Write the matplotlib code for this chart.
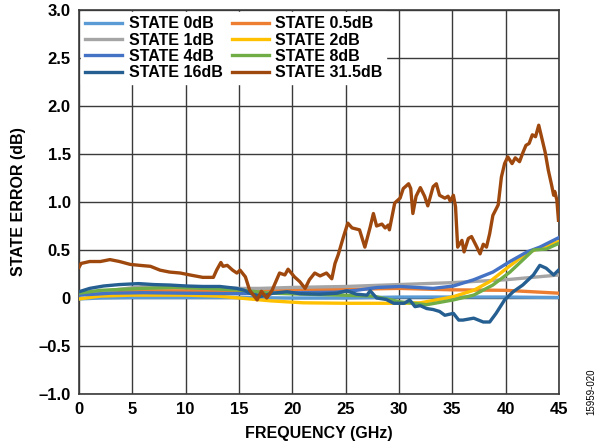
import matplotlib
matplotlib.use("Agg")
import matplotlib.pyplot as plt

# === DATA ===
f_0db = [0, 2, 5, 10, 15, 20, 25, 30, 35, 40, 45]
v_0db = [-0.01, 0.0, 0.005, 0.005, 0.005, 0.0, 0.0, 0.01, 0.01, 0.01, 0.005]

f_05db = [0, 3, 6, 10, 15, 20, 25, 30, 35, 40, 45]
v_05db = [0.04, 0.07, 0.075, 0.075, 0.08, 0.09, 0.09, 0.10, 0.085, 0.08, 0.05]

f_1db = [0, 3, 6, 10, 15, 17, 20, 25, 30, 35, 40, 45]
v_1db = [0.03, 0.08, 0.12, 0.11, 0.10, 0.10, 0.11, 0.12, 0.14, 0.16, 0.19, 0.24]

f_2db = [0, 2, 5, 10, 13, 15, 18, 21, 25, 28, 30, 32, 34, 35.1, 37.0, 38.5,
         40.1, 42.0, 43.2, 45]
v_2db = [-0.01, 0.02, 0.03, 0.03, 0.02, 0.0, -0.03, -0.05, -0.055, -0.055,
         -0.055, -0.05, -0.01, 0.014, 0.08, 0.17, 0.31, 0.47, 0.52, 0.59]

f_4db = [0, 3, 6, 10, 15, 20, 24, 26, 28, 30.1, 33.2, 35.1, 37.0, 38.8,
         40.4, 42.0, 43.2, 45]
v_4db = [0.03, 0.05, 0.055, 0.05, 0.045, 0.055, 0.06, 0.08, 0.11, 0.12,
         0.10, 0.125, 0.19, 0.27, 0.38, 0.48, 0.53, 0.63]

f_8db = [0, 2, 6, 9, 12, 15.3, 18, 21, 24.5, 27.6, 30.1, 32.6, 35.1, 37.0,
         38.8, 40.4, 42.6, 43.8, 45]
v_8db = [0.05, 0.08, 0.10, 0.11, 0.10, 0.08, 0.05, 0.04, 0.03, 0.02, -0.04,
         -0.07, -0.02, 0.03, 0.135, 0.27, 0.50, 0.51, 0.57]

f_16db = [0, 1.0, 2.3, 3.8, 5.6, 7.0, 8.5, 10.1, 11.6, 13.2,
          14.8, 15.5, 16.0, 17.0, 18.2, 19.5, 20.7, 22.6, 24.2, 25.1,
          26.0, 27.0, 27.3, 27.9, 28.8, 29.5, 30.5, 31.0, 31.5, 32.0,
          32.6, 33.2, 33.8, 34.3, 35.1, 35.6, 36.0, 37.0, 37.9, 38.5,
          39.1, 39.9, 40.7, 41.6, 42.6, 43.2, 43.8, 44.5, 44.95]
v_16db = [0.065, 0.10, 0.125, 0.14, 0.15, 0.14, 0.135, 0.125, 0.12, 0.12,
          0.10, 0.08, 0.05, 0.015, 0.05, 0.065, 0.045, 0.04, 0.05, 0.075,
          0.04, 0.03, 0.075, 0.0, -0.015, -0.055, -0.055, -0.02, -0.09, -0.08,
          -0.11, -0.12, -0.14, -0.18, -0.16, -0.23, -0.23, -0.21, -0.25, -0.25,
          -0.16, -0.02, 0.065, 0.135, 0.24, 0.34, 0.31, 0.24, 0.29]

f_315db = [0, 0.2, 1.0, 2.0, 2.9, 3.8, 4.8, 5.7, 6.7, 7.6,
           8.5, 9.5, 10.4, 11.6, 12.6, 12.9, 13.3, 13.5, 13.9, 14.4,
           14.8, 15.1, 15.6, 16.0, 16.7, 17.1, 17.6, 18.1, 18.8, 19.3,
           19.6, 20.2, 20.7, 21.2, 21.6, 22.1, 22.6, 23.2, 23.7, 24.0,
           24.3, 24.8, 25.2, 25.6, 26.3, 26.8, 27.3, 27.6, 27.9, 28.4,
           28.7, 29.0, 29.1, 29.6, 30.1, 30.4, 30.9, 31.1, 31.3, 31.6,
           32.0, 32.4, 32.7, 33.2, 33.5, 33.8, 34.3, 34.6, 34.8, 35.1,
           35.3, 35.5, 35.9, 36.1, 36.5, 36.8, 37.3, 37.6, 37.9, 38.2,
           38.5, 38.8, 39.3, 39.6, 39.9, 40.2, 40.6, 40.9, 41.3, 41.6,
           41.9, 42.2, 42.5, 42.8, 43.1, 43.4, 43.7, 44.0, 44.3, 44.5,
           44.6, 44.8, 44.95]
v_315db = [0.32, 0.36, 0.38, 0.38, 0.40, 0.38, 0.35, 0.34, 0.33, 0.29,
           0.27, 0.26, 0.24, 0.215, 0.215, 0.29, 0.37, 0.33, 0.34, 0.29,
           0.26, 0.29, 0.22, 0.08, -0.02, 0.07, 0.0, 0.08, 0.26, 0.24,
           0.30, 0.22, 0.17, 0.10, 0.19, 0.26, 0.23, 0.26, 0.20, 0.36,
           0.45, 0.64, 0.78, 0.73, 0.71, 0.53, 0.74, 0.88, 0.75, 0.77,
           0.73, 0.76, 0.71, 0.99, 1.04, 1.14, 1.19, 1.14, 0.88, 1.06,
           1.15, 1.06, 0.96, 1.16, 1.19, 1.07, 1.04, 1.06, 1.01, 1.07,
           0.95, 0.53, 0.60, 0.48, 0.62, 0.64, 0.53, 0.46, 0.56, 0.53,
           0.67, 0.86, 0.97, 1.26, 1.40, 1.47, 1.40, 1.46, 1.42, 1.51,
           1.59, 1.61, 1.70, 1.68, 1.80, 1.66, 1.52, 1.33, 1.18, 1.07,
           1.11, 1.02, 0.81]

x_ticks = [0, 5, 10, 15, 20, 25, 30, 35, 40, 45]
y_ticks = [-1.0, -0.5, 0, 0.5, 1.0, 1.5, 2.0, 2.5, 3.0]
y_tick_labels = ["\u20131.0", "\u20130.5", "0", "0.5", "1.0", "1.5", "2.0", "2.5", "3.0"]

# (label, freq, value, colour) in drawing order
series = [
    ("STATE 0dB", f_0db, v_0db, "#5B9BD5"),
    ("STATE 0.5dB", f_05db, v_05db, "#ED7D31"),
    ("STATE 1dB", f_1db, v_1db, "#A5A5A5"),
    ("STATE 2dB", f_2db, v_2db, "#FFC000"),
    ("STATE 4dB", f_4db, v_4db, "#4472C4"),
    ("STATE 8dB", f_8db, v_8db, "#70AD47"),
    ("STATE 16dB", f_16db, v_16db, "#255E91"),
    ("STATE 31.5dB", f_315db, v_315db, "#9E480E"),
]

plt.rcParams["font.family"] = ["Liberation Sans", "DejaVu Sans"]
plt.rcParams["font.weight"] = "bold"

fig = plt.figure(figsize=(6.0, 4.48), dpi=100)
ax = fig.add_axes([79 / 600, 1 - 394 / 448, 480 / 600, 384 / 448])

lines = {}
for i, (label, f, v, col) in enumerate(series):
    ln, = ax.plot(f, v, color=col, lw=2.4, label=label, zorder=3 + i,
                  solid_joinstyle="round")
    lines[label] = ln

ax.set_xlim(0, 45)
ax.set_ylim(-1.0, 3.0)
ax.set_xticks(x_ticks)
ax.set_yticks(y_ticks)
ax.set_yticklabels(y_tick_labels)
ax.tick_params(length=0, labelsize=12, pad=6)
for t in ax.get_xticklabels() + ax.get_yticklabels():
    t.set_fontweight("bold")
ax.grid(True, color="#3a3a3a", lw=1.0, zorder=0)
ax.set_axisbelow(True)
for s in ax.spines.values():
    s.set_color("#3a3a3a")
    s.set_linewidth(1.2)

ax.set_xlabel("FREQUENCY (GHz)", fontsize=11.5, fontweight="bold", labelpad=6)
ax.set_ylabel("STATE ERROR (dB)", fontsize=11.5, fontweight="bold", labelpad=9)

# legend filled row by row, like the reference
order = ["STATE 0dB", "STATE 1dB", "STATE 4dB", "STATE 16dB",
         "STATE 0.5dB", "STATE 2dB", "STATE 8dB", "STATE 31.5dB"]
leg = ax.legend([lines[k] for k in order], order, loc="upper left", ncol=2,
                frameon=True, fancybox=False, framealpha=1.0, edgecolor="white",
                prop={"weight": "bold", "size": 11.5}, handlelength=2.3,
                labelspacing=0.08, columnspacing=0.6, handletextpad=0.4,
                borderpad=0.25, borderaxespad=0.15)
leg.set_zorder(20)

fig.text(0.985, 0.125, "15959-020", rotation=90, fontsize=7, fontweight="normal",
         ha="center", va="center")

fig.savefig("out.png", dpi=100)
